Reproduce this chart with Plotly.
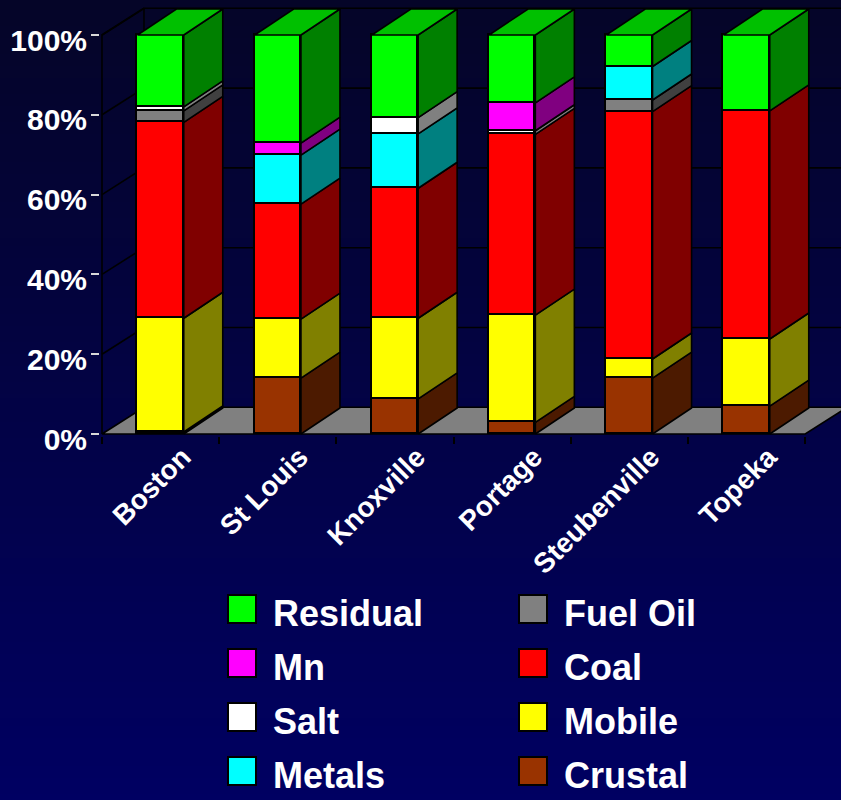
import base64
import struct
import zlib
import plotly.graph_objects as go

# ---------------- data ----------------
cities = ["Boston", "St Louis", "Knoxville", "Portage", "Steubenville", "Topeka"]
series_names = ["Crustal", "Mobile", "Coal", "Fuel Oil", "Metals", "Salt", "Mn", "Residual"]
crustal = [0.5, 14.0, 8.8, 2.9, 14.0, 7.0]
mobile = [28.5, 14.8, 20.2, 26.9, 4.8, 16.8]
coal = [49.1, 28.8, 32.6, 45.3, 62.0, 57.2]
fuel_oil = [2.9, 0.0, 0.0, 0.0, 2.9, 0.0]
metals = [0.0, 12.3, 13.6, 0.0, 8.4, 0.0]
salt = [1.0, 0.0, 4.1, 0.9, 0.0, 0.0]
mn = [0.0, 3.0, 0.0, 7.0, 0.0, 0.0]
residual = [18.0, 27.1, 20.7, 17.0, 7.9, 19.0]
y_tick_vals = [0, 20, 40, 60, 80, 100]
y_tick_text = ["0%", "20%", "40%", "60%", "80%", "100%"]

series_values = [crustal, mobile, coal, fuel_oil, metals, salt, mn, residual]
front_colors = ["#993300", "#FFFF00", "#FF0000", "#808080", "#00FFFF", "#FFFFFF", "#FF00FF", "#00FF00"]
side_colors = ["#4C1A00", "#808000", "#800000", "#404040", "#008080", "#808080", "#800080", "#008000"]
top_colors = ["#733000", "#C0C000", "#C00000", "#606060", "#00C0C0", "#C0C0C0", "#C000C0", "#00C000"]

# ---------------- geometry (pixels -> data units) ----------------
W, H = 841, 800
PX = 117.2          # px per category
PY = 3.99           # px per percent
X_LEFT_PX = 102     # pixel of category -0.5 boundary
Y_ZERO_PX = 434     # pixel of 0 %
PAD = 2
x_min = -0.5 - PAD / PX
x_max = -0.5 + (W - X_LEFT_PX) / PX
y_min = -PAD / PY
y_max = (Y_ZERO_PX - PAD) / PY
DX, DY = 42 / PX, 26.7 / PY       # wall depth
BDX, BDY = 39 / PX, 26.0 / PY     # bar depth
BW = 0.395
n = len(cities)
x0 = -0.5
LINE = dict(color="black", width=1.6)
FONT = "Liberation Sans, Arial, sans-serif"


def gradient_png(h, top, bot):
    raw = b""
    for r in range(h):
        t = r / (h - 1)
        px = bytes(int(round(top[k] + (bot[k] - top[k]) * t)) for k in range(3))
        raw += b"\x00" + px

    def chunk(tag, data):
        c = struct.pack(">I", len(data)) + tag + data
        return c + struct.pack(">I", zlib.crc32(tag + data) & 0xFFFFFFFF)

    png = b"\x89PNG\r\n\x1a\n"
    png += chunk(b"IHDR", struct.pack(">IIBBBBB", 1, h, 8, 2, 0, 0, 0))
    png += chunk(b"IDAT", zlib.compress(raw))
    png += chunk(b"IEND", b"")
    return "data:image/png;base64," + base64.b64encode(png).decode()


fig = go.Figure()

# ---------------- walls & floor (base subplot) ----------------
fx = [x0, x0 + n, x0 + n + DX, x0 + DX, x0]
fy = [0, 0, DY, DY, 0]
fig.add_trace(go.Scatter(x=fx, y=fy, fill="toself", fillcolor="#808080", mode="lines",
                         line=LINE, hoverinfo="skip", xaxis="x", yaxis="y"))
wx, wy = [], []
wx += [x0, x0, x0 + DX, x0 + DX, None]
wy += [0, 100, 100 + DY, DY, None]
for v in y_tick_vals[1:]:
    wx += [x0, x0 + DX, x0 + DX + n, None]
    wy += [v, v + DY, v + DY, None]
fig.add_trace(go.Scatter(x=wx, y=wy, mode="lines", line=LINE, hoverinfo="skip",
                         xaxis="x", yaxis="y"))

# ---------------- bars (overlay subplot) ----------------
cum = [0.0] * n
top_series = [0] * n
for s, vals in enumerate(series_values):
    bottoms = cum[:]
    fig.add_trace(go.Bar(
        x=list(range(n)), y=[v if v else None for v in vals], width=BW,
        marker=dict(color=front_colors[s], line=LINE), name=series_names[s],
        xaxis="x2", yaxis="y2", hoverinfo="skip"))
    sx, sy = [], []
    for i, v in enumerate(vals):
        if not v:
            continue
        b, t = bottoms[i], bottoms[i] + v
        xr = i + BW / 2
        sx += [xr, xr + BDX, xr + BDX, xr, xr, None]
        sy += [b, b + BDY, t + BDY, t, b, None]
        cum[i] = t
        top_series[i] = s
    fig.add_trace(go.Scatter(x=sx, y=sy, fill="toself", fillcolor=side_colors[s], mode="lines",
                             line=LINE, hoverinfo="skip", xaxis="x2", yaxis="y2"))

for s in sorted(set(top_series)):
    tx, ty = [], []
    for i in range(n):
        if top_series[i] != s:
            continue
        xl, xr, t = i - BW / 2, i + BW / 2, cum[i]
        tx += [xl, xr, xr + BDX, xl + BDX, xl, None]
        ty += [t, t, t + BDY, t + BDY, t, None]
    fig.add_trace(go.Scatter(x=tx, y=ty, fill="toself", fillcolor=top_colors[s], mode="lines",
                             line=LINE, hoverinfo="skip", xaxis="x2", yaxis="y2"))

# ---------------- custom legend (own subplot) ----------------
leg_order = list(range(len(series_names)))[::-1]
lx, ly, lc, tx, ty, tt = [], [], [], [], [], []
for k, s in enumerate(leg_order):
    col, row = k // 4, k % 4
    cx = 242 + col * 291
    cy = 609 + row * 54
    lx.append(cx)
    ly.append(cy)
    lc.append(front_colors[s])
    tx.append(cx + 31)
    ty.append(cy + 8)
    tt.append(series_names[s])
fig.add_trace(go.Scatter(x=lx, y=ly, mode="markers", xaxis="x3", yaxis="y3",
                         marker=dict(symbol="square", size=28, color=lc,
                                     line=dict(color="black", width=2)), hoverinfo="skip"))
fig.add_trace(go.Scatter(x=tx, y=ty, mode="text", text=tt, textposition="middle right",
                         cliponaxis=False,
                         textfont=dict(family=FONT, size=36, color="white", weight="bold"),
                         xaxis="x3", yaxis="y3", hoverinfo="skip"))

dom_x = [(X_LEFT_PX - PAD) / W, 1]
dom_y = [(H - (Y_ZERO_PX + PAD)) / H, (H - PAD) / H]

fig.update_layout(
    width=W, height=H, margin=dict(l=0, r=0, t=0, b=0, autoexpand=False),
    paper_bgcolor="#000040", plot_bgcolor="rgba(0,0,0,0)",
    barmode="stack", showlegend=False, bargap=0,
    images=[dict(source=gradient_png(200, (5, 5, 40), (0, 0, 98)), xref="paper", yref="paper",
                 x=0, y=1, sizex=1, sizey=1, sizing="stretch", layer="below")],
    xaxis=dict(domain=dom_x, range=[x_min, x_max], anchor="y", automargin=False,
               tickmode="array", tickvals=[x0 + k for k in range(n + 1)],
               ticks="outside", ticklen=7, tickwidth=2, tickcolor="black",
               showticklabels=False, showgrid=False, zeroline=False, showline=False),
    yaxis=dict(domain=dom_y, range=[y_min, y_max], anchor="x", automargin=False,
               tickmode="array", tickvals=y_tick_vals, ticktext=y_tick_text,
               ticks="outside", ticklen=8, tickwidth=2, tickcolor="#d8d8d8",
               ticklabelshift=5, ticklabelstandoff=-2,
               tickfont=dict(family=FONT, size=30, color="white", weight="bold"),
               showgrid=False, zeroline=False, showline=False),
    xaxis2=dict(overlaying="x", range=[x_min, x_max], anchor="y2", automargin=False,
                tickmode="array", tickvals=list(range(n)), ticktext=cities,
                tickangle=-45, ticks="", ticklabelshift=22, ticklabelstandoff=-2,
                tickfont=dict(family=FONT, size=28, color="white", weight="bold"),
                showgrid=False, zeroline=False, showline=False),
    yaxis2=dict(overlaying="y", range=[y_min, y_max], anchor="x2", visible=False,
                automargin=False),
    xaxis3=dict(domain=[0, 1], range=[0, W], anchor="y3", visible=False, automargin=False),
    yaxis3=dict(domain=[0, 240 / H], range=[800, 560], anchor="x3", visible=False,
                automargin=False),
)

fig.write_html("out.html")
